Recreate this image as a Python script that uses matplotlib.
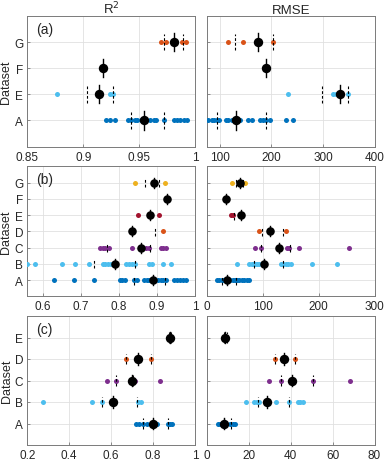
import matplotlib
matplotlib.use("Agg")
import matplotlib.pyplot as plt

plt.rcParams['font.family'] = ['Liberation Sans', 'DejaVu Sans']

# ---- colours ----
C_BLUE = '#0072BD'
C_LBLUE = '#4DBEEE'
C_ORANGE = '#D95319'
C_YELLOW = '#EDB120'
C_PURPLE = '#7E2F8E'
C_RED = '#A2142F'

# ---- panel (a) ----
a_labels = ['A', 'E', 'F', 'G']
a_colors = [C_BLUE, C_LBLUE, None, C_ORANGE]
a_r2_A = [0.920, 0.924, 0.928, 0.940, 0.943, 0.946, 0.948, 0.952, 0.956, 0.960,
          0.963, 0.965, 0.972, 0.981, 0.984, 0.987, 0.990, 0.993]
a_r2_E = [0.877, 0.924, 0.927]
a_r2_F = []
a_r2_G = [0.970, 0.974, 0.988, 0.992]
a_r2_center = [0.954, 0.914, 0.918, 0.981]
a_r2_dashed = [[0.943, 0.972], [0.903, 0.927], [], [0.972, 0.989]]

a_rmse_A = [76, 84, 88, 94, 99, 112, 116, 123, 129, 135, 140, 155, 163, 177, 184,
            189, 197, 228, 242]
a_rmse_E = [233, 319, 326, 349]
a_rmse_F = []
a_rmse_G = [115, 145, 203]
a_rmse_center = [132, 333.5, 189, 174]
a_rmse_dashed = [[95, 189], [299, 348], [], [130, 203]]

# ---- panel (b) ----
b_labels = ['A', 'B', 'C', 'D', 'E', 'F', 'G']
b_colors = [C_BLUE, C_LBLUE, C_PURPLE, C_ORANGE, C_RED, None, C_YELLOW]
b_r2_A = [0.631, 0.682, 0.736, 0.802, 0.809, 0.816, 0.840, 0.849, 0.867, 0.873,
          0.880, 0.904, 0.911, 0.917, 0.924, 0.946, 0.953, 0.961, 0.968, 0.977]
b_r2_B = [0.559, 0.581, 0.651, 0.686, 0.721, 0.758, 0.765, 0.773, 0.779, 0.785,
          0.818, 0.827, 0.836, 0.843, 0.878, 0.887, 0.915, 0.937]
b_r2_C = [0.752, 0.758, 0.765, 0.774, 0.834, 0.871, 0.878, 0.911, 0.917, 0.924]
b_r2_D = [0.915]
b_r2_E = [0.851, 0.906]
b_r2_F = []
b_r2_G = [0.843, 0.922]
b_r2_center = [0.891, 0.790, 0.858, 0.834, 0.882, 0.926, 0.893]
b_r2_dashed = [[0.840, 0.922], [0.735, 0.843], [0.770, 0.882], [0.895], [], [],
               [0.868, 0.906]]

b_rmse_A = [18.5, 22, 26.3, 30.4, 35.3, 41.2, 46, 50.2, 54.3, 57.9, 62.1, 66.3,
            71.1, 75.8]
b_rmse_B = [54.3, 75.8, 80, 83, 86, 89, 93.7, 132.5, 136.7, 141.5, 145.6, 149.9,
            187.5, 232.3]
b_rmse_C = [86, 96.7, 143.9, 147.4, 165.4, 254.3]
b_rmse_D = [93.7, 141.5]
b_rmse_E = [42.4, 47.2]
b_rmse_F = []
b_rmse_G = [44.2, 68]
b_rmse_center = [36.4, 102, 129, 112.8, 60.3, 33.4, 59.1]
b_rmse_dashed = [[26.3, 52], [84.2, 135.5], [96.7, 148.7], [99, 135.5], [49], [],
                 [52, 65]]

# ---- panel (c) ----
c_labels = ['A', 'B', 'C', 'D', 'E']
c_colors = [C_BLUE, C_LBLUE, C_PURPLE, C_ORANGE, None]
c_r2_A = [0.718, 0.734, 0.750, 0.769, 0.788, 0.817, 0.873, 0.881, 0.889]
c_r2_B = [0.276, 0.507, 0.555, 0.730, 0.741]
c_r2_C = [0.579, 0.621, 0.698, 0.714, 0.833]
c_r2_D = [0.671, 0.788]
c_r2_E = []
c_r2_center = [0.801, 0.607, 0.698, 0.730, 0.881]
c_r2_dashed = [[0.750, 0.873], [0.555, 0.725], [0.621, 0.706], [0.671, 0.788],
               [0.877, 0.886]]

c_rmse_A = [5.1, 6.4, 8.0, 11.1, 12.4, 13.5]
c_rmse_B = [18.8, 22.3, 23.9, 24.7, 28.6, 33.1, 39.0, 43.3, 44.5, 45.8]
c_rmse_C = [29.7, 35.3, 40.6, 50.4, 68.1]
c_rmse_D = [32.3, 42.1]
c_rmse_E = []
c_rmse_center = [8.3, 28.6, 40.6, 37.0, 8.7]
c_rmse_dashed = [[8.0, 11.5], [24.3, 39.0], [35.3, 50.4], [32.3, 42.1], [8.0, 9.5]]

# ---- axes settings ----
a_r2_xlim, a_r2_ticks, a_r2_ticklabels = (0.85, 1.0), [0.85, 0.9, 0.95, 1.0], ['0.85', '0.9', '0.95', '1']
a_rmse_xlim, a_rmse_ticks = (75, 400), [100, 200, 300, 400]
b_r2_xlim, b_r2_ticks, b_r2_ticklabels = (0.56, 1.0), [0.6, 0.7, 0.8, 0.9, 1.0], ['0.6', '0.7', '0.8', '0.9', '1']
b_rmse_xlim, b_rmse_ticks = (0, 300), [0, 100, 200, 300]
c_r2_xlim, c_r2_ticks, c_r2_ticklabels = (0.2, 1.0), [0.2, 0.4, 0.6, 0.8, 1.0], ['0.2', '0.4', '0.6', '0.8', '1']
c_rmse_xlim, c_rmse_ticks = (0, 80), [0, 20, 40, 60, 80]

W, H = 387, 464
fig = plt.figure(figsize=(W / 100, H / 100), dpi=100)

def frac_box(x0, x1, ytop, ybot):
    return [x0 / W, 1 - ybot / H, (x1 - x0) / W, (ybot - ytop) / H]

rows_px = [(17, 147.5), (167.3, 297.3), (317, 446)]
left_px = (27.3, 195)
right_px = (207, 374.5)

SPINE = '#7a7a7a'
TXT = '#262626'

def style(ax, labels, xlim, xticks, xticklabels, show_y):
    n = len(labels)
    ax.set_xlim(*xlim)
    ax.set_ylim(0, n + 1)
    ax.set_xticks(xticks)
    if xticklabels is not None:
        ax.set_xticklabels(xticklabels)
    ax.set_yticks(range(1, n + 1))
    if show_y:
        ax.set_yticklabels(labels)
        ax.set_ylabel('Dataset', fontsize=9, color=TXT, labelpad=1)
    else:
        ax.set_yticklabels([])
    ax.grid(True, color='#e0e0e0', lw=0.6, zorder=0)
    ax.set_axisbelow(True)
    for s in ax.spines.values():
        s.set_color(SPINE)
        s.set_linewidth(0.7)
    ax.tick_params(direction='in', length=2.5, width=0.6, colors=SPINE,
                   labelcolor=TXT, labelsize=8.5, pad=3)

def draw(ax, series, colors, centers, dashed, half, big):
    for i, (pts, col, cen, dsh) in enumerate(zip(series, colors, centers, dashed)):
        y = i + 1
        if pts and col is not None:
            ax.scatter(pts, [y] * len(pts), s=13, color=col, linewidths=0, zorder=3)
        for d in dsh:
            ax.plot([d, d], [y - half, y + half], color='black', lw=0.8,
                    ls=(0, (2.5, 1.8)), zorder=4)
        ax.plot([cen, cen], [y - half * 1.1, y + half * 1.1], color='black', lw=1.0, zorder=4)
        ax.scatter([cen], [y], s=big, color='black', linewidths=0, zorder=5)

panels = [
    (a_labels, a_colors,
     [a_r2_A, a_r2_E, a_r2_F, a_r2_G], a_r2_center, a_r2_dashed, a_r2_xlim, a_r2_ticks, a_r2_ticklabels,
     [a_rmse_A, a_rmse_E, a_rmse_F, a_rmse_G], a_rmse_center, a_rmse_dashed, a_rmse_xlim, a_rmse_ticks,
     '(a)', 0.32, 46),
    (b_labels, b_colors,
     [b_r2_A, b_r2_B, b_r2_C, b_r2_D, b_r2_E, b_r2_F, b_r2_G], b_r2_center, b_r2_dashed, b_r2_xlim, b_r2_ticks, b_r2_ticklabels,
     [b_rmse_A, b_rmse_B, b_rmse_C, b_rmse_D, b_rmse_E, b_rmse_F, b_rmse_G], b_rmse_center, b_rmse_dashed, b_rmse_xlim, b_rmse_ticks,
     '(b)', 0.28, 38),
    (c_labels, c_colors,
     [c_r2_A, c_r2_B, c_r2_C, c_r2_D, c_r2_E], c_r2_center, c_r2_dashed, c_r2_xlim, c_r2_ticks, c_r2_ticklabels,
     [c_rmse_A, c_rmse_B, c_rmse_C, c_rmse_D, c_rmse_E], c_rmse_center, c_rmse_dashed, c_rmse_xlim, c_rmse_ticks,
     '(c)', 0.25, 46),
]

for r, (labels, colors, r2s, r2c, r2d, r2xl, r2t, r2tl, rms, rmc, rmd, rmxl, rmt, tag, half, big) in enumerate(panels):
    yt, yb = rows_px[r]
    axl = fig.add_axes(frac_box(left_px[0], left_px[1], yt, yb))
    axr = fig.add_axes(frac_box(right_px[0], right_px[1], yt, yb))
    style(axl, labels, r2xl, r2t, r2tl, True)
    style(axr, labels, rmxl, rmt, None, False)
    draw(axl, r2s, colors, r2c, r2d, half, big)
    draw(axr, rms, colors, rmc, rmd, half, big)
    axl.text(0.05, 0.955, tag, transform=axl.transAxes, ha='left', va='top',
             fontsize=10, color=TXT)
    if r == 0:
        axl.set_title('R$^2$', fontsize=9.5, color=TXT, pad=2)
        axr.set_title('RMSE', fontsize=9.5, color=TXT, pad=2)

fig.savefig('out.png', dpi=100)
